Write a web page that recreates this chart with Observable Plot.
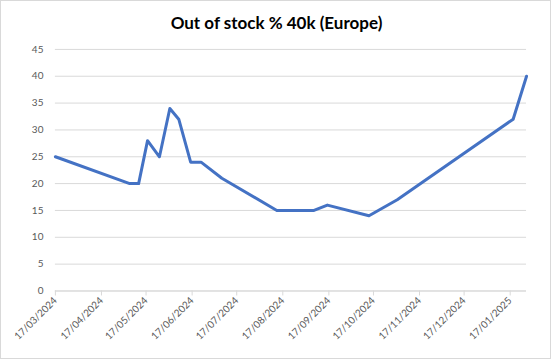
<!DOCTYPE html>
<html>
<head>
<meta charset="utf-8">
<script src="https://cdn.jsdelivr.net/npm/d3@7"></script>
<script src="https://cdn.jsdelivr.net/npm/@observablehq/plot@0.6"></script>
<style>
  html, body { margin: 0; padding: 0; background: #fff; }
  #wrap { position: relative; width: 549px; height: 357px; border: 1px solid #d9d9d9; overflow: hidden; }
  #title { position: absolute; left: 0; top: 11px; width: 551px; text-align: center;
           font-family: "Lato", sans-serif; font-weight: bold; font-size: 17px; color: #000; }
  #chart { position: absolute; left: -1px; top: -1px; }
</style>
</head>
<body>
<div id="wrap">
  <div id="title">Out of stock % 40k (Europe)</div>
  <div id="chart"></div>
</div>
<script>
const dates = ["2024-03-17","2024-05-06","2024-05-12","2024-05-18","2024-05-26","2024-06-02","2024-06-08","2024-06-16","2024-06-23","2024-07-07","2024-08-13","2024-09-07","2024-09-16","2024-10-14","2024-11-02","2025-01-19","2025-01-28"];
const values = [25,20,20,28,25,34,32,24,24,21,15,15,16,14,17,32,40];
const xTickLabels = ["17/03/2024","17/04/2024","17/05/2024","17/06/2024","17/07/2024","17/08/2024","17/09/2024","17/10/2024","17/11/2024","17/12/2024","17/01/2025"];
const yTicks = [0,5,10,15,20,25,30,35,40,45];

const parseLabel = s => { const [d,m,y] = s.split("/").map(Number); return new Date(Date.UTC(y, m-1, d)); };
const fmt = d3.utcFormat("%d/%m/%Y");
const data = dates.map((d,i) => ({date: new Date(d + "T00:00:00Z"), value: values[i]}));
const xTicks = xTickLabels.map(parseLabel);

const chart = Plot.plot({
  width: 551, height: 359,
  marginLeft: 55, marginRight: 24, marginTop: 49, marginBottom: 68,
  style: {fontFamily: "Lato, sans-serif", fontSize: "10px", color: "#595959", background: "transparent", overflow: "visible"},
  x: {type: "utc", domain: [data[0].date, data[data.length-1].date]},
  y: {domain: [0,45]},
  marks: [
    Plot.gridY(yTicks, {stroke: "#d9d9d9", strokeOpacity: 1}),
    Plot.ruleY([0], {stroke: "#d9d9d9"}),
    Plot.axisX(xTicks, {tickFormat: fmt, tickRotate: -45, tickSize: 5, tickPadding: 3, stroke: "#d9d9d9", strokeOpacity: 1, label: null, fontSize: 10}),
    Plot.axisY(yTicks, {tickSize: 0, tickPadding: 12, label: null, fontSize: 10}),
    Plot.line(data, {x: "date", y: "value", stroke: "#4472C4", strokeWidth: 3})
  ]
});
document.getElementById("chart").appendChild(chart);
</script>
</body>
</html>
